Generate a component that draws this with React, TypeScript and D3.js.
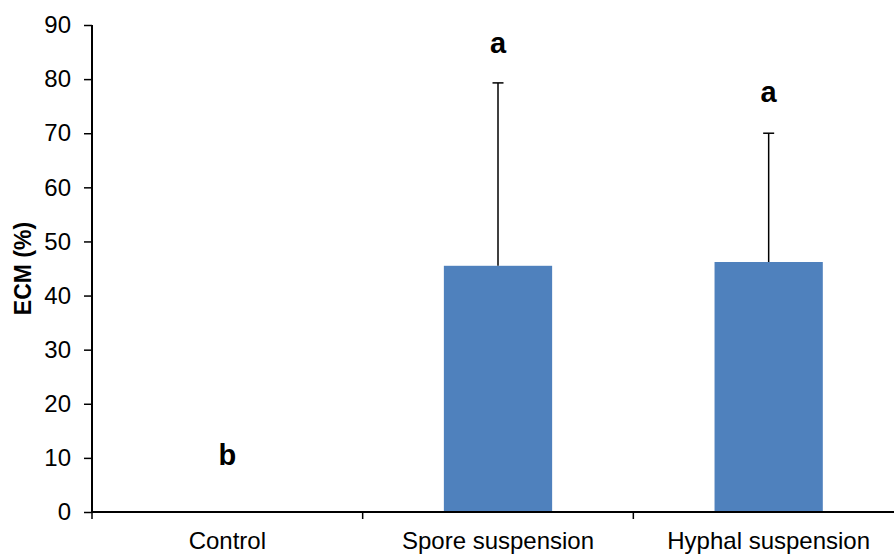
import { useEffect, useRef } from "react";
import * as d3 from "d3";

const categories = ["Control", "Spore suspension", "Hyphal suspension"];
const means = [0, 45.5, 46.2];
const errors = [0, 33.8, 23.8];
const letters = ["b", "a", "a"];
const letterLevels = [10.5, 86.7, 77.6];
const yTicks = [0, 10, 20, 30, 40, 50, 60, 70, 80, 90];

const W = 894;
const H = 554;
const FONT = "'Liberation Sans', Arial, sans-serif";

export default function App() {
  const ref = useRef<SVGSVGElement | null>(null);

  useEffect(() => {
    const el = ref.current;
    if (!el) return;
    const svg = d3.select(el);
    svg.selectAll("*").remove();

    const margin = { top: 25, right: -10, bottom: 42, left: 92 };
    const plotW = W - margin.left - margin.right;
    const plotH = H - margin.top - margin.bottom;

    const x = d3
      .scaleBand()
      .domain(categories)
      .range([0, plotW])
      .paddingInner(0.6)
      .paddingOuter(0.3);
    const y = d3.scaleLinear().domain([0, 90]).range([plotH, 0]);

    const g = svg
      .append("g")
      .attr("transform", `translate(${margin.left},${margin.top})`);

    // bars
    g.selectAll("rect.bar")
      .data(categories)
      .join("rect")
      .attr("class", "bar")
      .attr("x", (d) => x(d)!)
      .attr("width", x.bandwidth())
      .attr("y", (_, i) => y(means[i]))
      .attr("height", (_, i) => plotH - y(means[i]))
      .attr("fill", "#4F81BD");

    // error bars (upper only)
    const errs = g
      .selectAll("g.err")
      .data(categories.filter((_, i) => errors[i] > 0))
      .join("g")
      .attr("class", "err")
      .attr("stroke", "#000")
      .attr("stroke-width", 1.5);
    const top = (d: string) => {
      const i = categories.indexOf(d);
      return y(means[i] + errors[i]);
    };
    const cx = (d: string) => x(d)! + x.bandwidth() / 2;
    errs
      .append("line")
      .attr("x1", cx)
      .attr("x2", cx)
      .attr("y1", (d) => y(means[categories.indexOf(d)]))
      .attr("y2", top);
    errs
      .append("line")
      .attr("x1", (d) => cx(d) - 5.5)
      .attr("x2", (d) => cx(d) + 5.5)
      .attr("y1", top)
      .attr("y2", top);

    // significance letters
    g.selectAll("text.letter")
      .data(categories)
      .join("text")
      .attr("class", "letter")
      .attr("x", cx)
      .attr("y", (_, i) => y(letterLevels[i]))
      .attr("text-anchor", "middle")
      .attr("dominant-baseline", "central")
      .attr("font-family", FONT)
      .attr("font-weight", "bold")
      .attr("font-size", 29)
      .attr("fill", "#000")
      .text((_, i) => letters[i]);

    // y axis
    const ya = g
      .append("g")
      .call(d3.axisLeft(y).tickValues(yTicks).tickSize(8).tickPadding(13));
    ya.select(".domain").attr("stroke", "#000").attr("stroke-width", 2).attr("d", `M0,${plotH}V0`);
    ya.selectAll(".tick line").attr("stroke", "#000").attr("stroke-width", 1.5);
    ya.selectAll(".tick text")
      .attr("font-family", FONT)
      .attr("font-size", 24)
      .attr("fill", "#000");

    // x axis
    const xa = g
      .append("g")
      .attr("transform", `translate(0,${plotH})`)
      .call(d3.axisBottom(x).tickSize(0).tickPadding(20));
    xa.select(".domain").attr("stroke", "#000").attr("stroke-width", 2).attr("d", `M0,0H${plotW}`);
    xa.selectAll(".tick text")
      .attr("font-family", FONT)
      .attr("font-size", 24)
      .attr("fill", "#000");

    // category boundary ticks
    const step = x.step();
    const x0 = x(categories[0])! - x.paddingOuter() * step;
    g.append("g")
      .selectAll("line")
      .data(d3.range(categories.length + 1))
      .join("line")
      .attr("x1", (i) => x0 + i * step)
      .attr("x2", (i) => x0 + i * step)
      .attr("y1", plotH)
      .attr("y2", plotH + 7)
      .attr("stroke", "#000")
      .attr("stroke-width", 1.5);

    // y label
    svg
      .append("text")
      .attr("transform", `translate(23,${margin.top + y(45)}) rotate(-90)`)
      .attr("text-anchor", "middle")
      .attr("dominant-baseline", "central")
      .attr("font-family", FONT)
      .attr("font-weight", "bold")
      .attr("font-size", 23)
      .attr("fill", "#000")
      .text("ECM (%)");
  }, []);

  return (
    <svg
      ref={ref}
      width={W}
      height={H}
      style={{ position: "absolute", left: 0, top: 0, background: "#fff" }}
    />
  );
}
